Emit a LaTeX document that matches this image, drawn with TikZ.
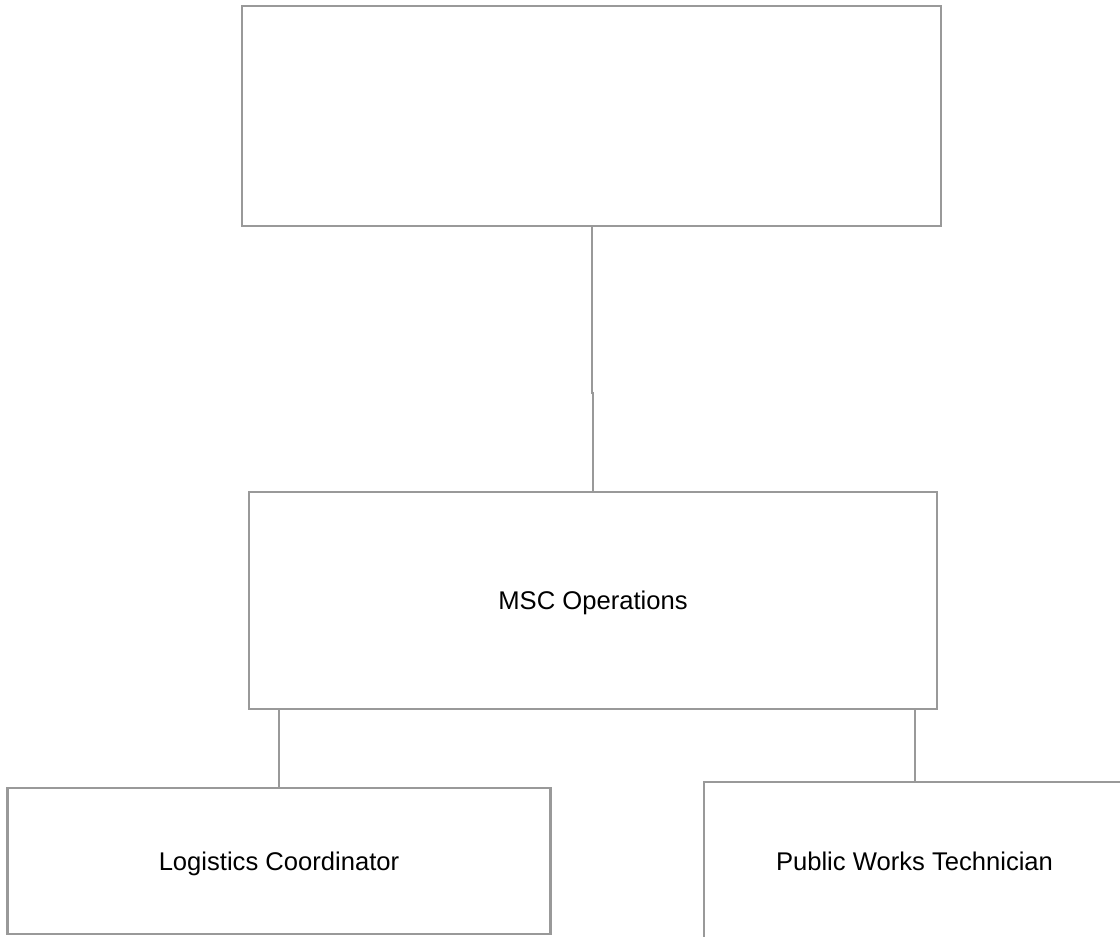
\documentclass[tikz,border=0pt]{standalone}
\usepackage{fontspec}
\setmainfont{Liberation Sans}
\usetikzlibrary{positioning}
\definecolor{boxGray}{RGB}{153,153,153}

\begin{document}
\begin{tikzpicture}[x=0.75pt,y=-0.75pt,
  unit/.style={draw=boxGray,line width=1.1pt,fill=white,inner sep=0pt,
    font=\fontsize{19.2}{23}\selectfont,text height=13.7pt,text depth=0pt},
  post/.style={draw=boxGray,line width=2.2pt,fill=white,inner sep=0pt,
    font=\fontsize{19.2}{23}\selectfont,text height=13.7pt,text depth=0pt},
  link/.style={draw=boxGray,line width=1.5pt}]
 \useasboundingbox (0,0) rectangle (1120,936);
 \clip (0,0) rectangle (1120,936);
 \node[unit,minimum width=524.25pt,minimum height=165pt] (top) at (591.5,116) {};
 \node[unit,minimum width=516pt,minimum height=162.75pt] (ops) at (593,600.5) {MSC Operations};
 \node[post,minimum width=407.25pt,minimum height=109.5pt] (logi) at (279,861) {Logistics Coordinator};
 \node[post,minimum width=315.75pt,minimum height=118.5pt] (tech) at (914.5,861) {Public Works Technician};
 \coordinate (jog) at (592,393);
 \draw[link] (top.south) -- (top.south |- jog) -- (jog -| ops.north) -- (ops.north);
 \draw[link] (logi.north) -- (logi.north |- ops.south);
 \draw[link] (tech.north) -- (tech.north |- ops.south);
\end{tikzpicture}
\end{document}
